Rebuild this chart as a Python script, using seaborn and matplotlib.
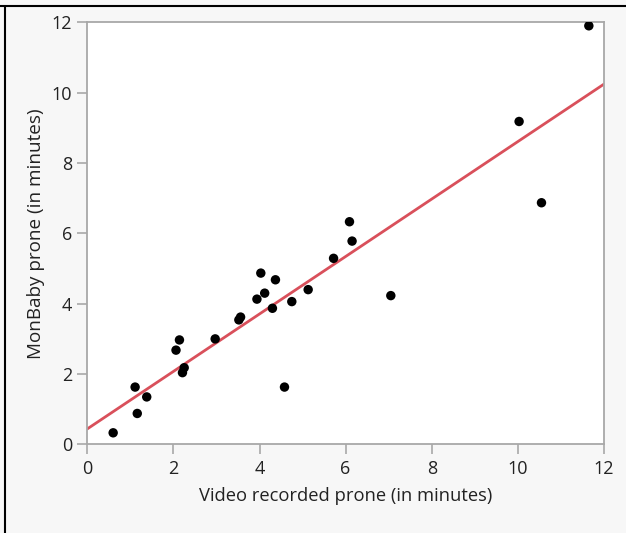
import matplotlib
matplotlib.use("Agg")
import matplotlib.pyplot as plt
import seaborn as sns
import pandas as pd
from matplotlib.lines import Line2D

# Data
video_prone = [0.60, 1.11, 1.16, 1.38, 2.06, 2.14, 2.21, 2.25, 2.97, 3.52, 3.56,
               3.94, 4.03, 4.12, 4.30, 4.37, 4.58, 4.75, 5.13, 5.72, 6.09, 6.15,
               7.05, 10.03, 10.55, 11.65]
monbaby_prone = [0.33, 1.63, 0.88, 1.35, 2.68, 2.97, 2.04, 2.18, 3.00, 3.54, 3.62,
                 4.13, 4.87, 4.30, 3.87, 4.68, 1.63, 4.06, 4.40, 5.29, 6.33, 5.78,
                 4.23, 9.18, 6.87, 11.90]
x_ticks = [0, 2, 4, 6, 8, 10, 12]
y_ticks = [0, 2, 4, 6, 8, 10, 12]
x_label = "Video recorded prone (in minutes)"
y_label = "MonBaby prone (in minutes)"

df = pd.DataFrame({"video": video_prone, "monbaby": monbaby_prone})

sns.set_style("white")
plt.rcParams["font.family"] = ["Open Sans", "DejaVu Sans"]

bg = "#f7f7f7"
fig = plt.figure(figsize=(6.26, 5.33), dpi=100, facecolor=bg)
ax = fig.add_axes([0.1395, 0.1662, 0.8252, 0.7920])
ax.set_facecolor("white")
ax.set_xlim(0, 12)
ax.set_ylim(0, 12)

sns.regplot(data=df, x="video", y="monbaby", ax=ax, ci=None, truncate=False,
            scatter_kws=dict(s=46, color="black", edgecolor="none", alpha=1, zorder=3),
            line_kws=dict(color="#d9505b", lw=2.0, zorder=2))

ax.set_xlim(0, 12)
ax.set_ylim(0, 12)
ax.set_xticks(x_ticks)
ax.set_yticks(y_ticks)
ax.set_xticklabels([str(t) for t in x_ticks])
ax.set_yticklabels([str(t) for t in y_ticks])
ax.set_xlabel(x_label, fontsize=13.2, color="#222222", labelpad=7)
ax.set_ylabel(y_label, fontsize=13.6, color="#222222", labelpad=5)
ax.tick_params(axis="both", which="major", direction="out", length=7, width=1.2,
               color="#a8a8a8", labelsize=13, labelcolor="#222222", pad=4,
               bottom=True, left=True)
for s in ax.spines.values():
    s.set_color("#a8a8a8")
    s.set_linewidth(1.3)

# screenshot frame lines (top and left)
fig.add_artist(Line2D([0.0, 1.0], [1 - 6 / 533, 1 - 6 / 533], transform=fig.transFigure,
                      color="black", lw=1.5))
fig.add_artist(Line2D([4.5 / 626, 4.5 / 626], [0.0, 1 - 6 / 533], transform=fig.transFigure,
                      color="black", lw=1.5))

fig.savefig("out.png", dpi=100, facecolor=bg)
